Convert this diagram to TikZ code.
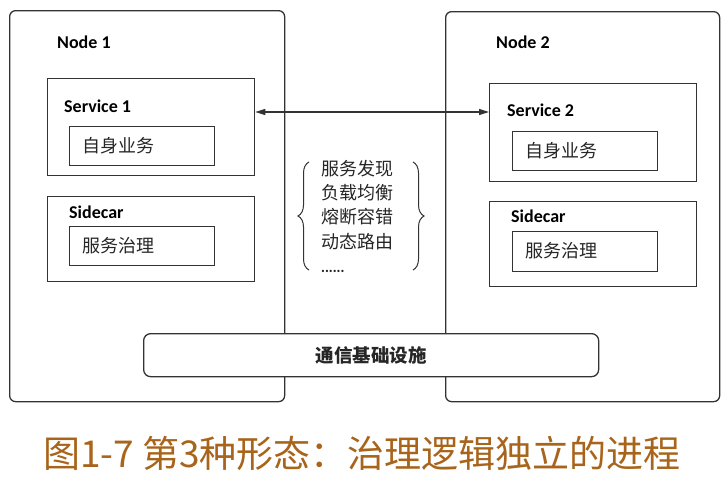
\documentclass[tikz,border=0pt]{standalone}
\usepackage{fontspec}
\setmainfont{Carlito}
\newfontfamily\cjk{Noto Sans CJK SC}
\usetikzlibrary{arrows.meta,decorations.pathreplacing}
\definecolor{linec}{HTML}{333333}
\definecolor{capc}{HTML}{A8641A}
\tikzset{
  outer/.style={draw=linec,line width=1.3pt,rounded corners=6pt,anchor=north west,inner sep=0pt},
  box/.style={draw=linec,line width=1.3pt,anchor=north west,inner sep=0pt},
  infra/.style={draw=linec,fill=white,line width=1.3pt,rounded corners=7pt,anchor=north west,inner sep=0pt},
  lbl/.style={anchor=west,font=\fontsize{18}{21}\selectfont\bfseries,text=black,inner sep=0pt},
  zh/.style={anchor=west,font=\cjk\fontsize{18}{21}\selectfont,text=black!85,inner sep=0pt},
}
\begin{document}
\begin{tikzpicture}[x=1pt,y=-1pt]
\useasboundingbox[fill=white] (0,0) rectangle (726,479);
% nodes
\node[outer,minimum width=275pt,minimum height=391pt] (n1) at (9,10) {};
\node[outer,minimum width=274pt,minimum height=390pt] (n2) at (445,11) {};
\node[lbl] (n1l) at (57,42) {Node 1};
\node[lbl] (n2l) at (496,42) {Node 2};
% services
\node[box,minimum width=207pt,minimum height=97pt] (s1) at (47,78) {};
\node[lbl] (s1l) at (64,106) {Service 1};
\node[box,minimum width=145pt,minimum height=39pt] (b1) at (69,126) {};
\node[zh] (b1t) at (82,145.5) {自身业务};
\node[box,minimum width=207pt,minimum height=85pt] (c1) at (47,196) {};
\node[lbl] (c1l) at (69,212) {Sidecar};
\node[box,minimum width=145pt,minimum height=39pt] (g1) at (69,226) {};
\node[zh] (g1t) at (82,245.5) {服务治理};
\node[box,minimum width=207pt,minimum height=98pt] (s2) at (489,83) {};
\node[lbl] (s2l) at (507,110) {Service 2};
\node[box,minimum width=145pt,minimum height=39pt] (b2) at (512,131) {};
\node[zh] (b2t) at (525,150.5) {自身业务};
\node[box,minimum width=207pt,minimum height=85pt] (c2) at (489,201) {};
\node[lbl] (c2l) at (511,216) {Sidecar};
\node[box,minimum width=145pt,minimum height=40pt] (g2) at (512,231) {};
\node[zh] (g2t) at (525,251) {服务治理};
% arrow
\coordinate (p1) at ([yshift=-34pt]s1.north east);
\draw[linec,line width=1.2pt,{Triangle[length=10pt,width=6pt]}-{Triangle[length=10pt,width=6pt]}] (p1) -- (p1 -| s2.west);
% brace list
\node[anchor=north west,inner sep=0pt,align=left,font=\cjk\fontsize{18}{24.3}\selectfont,text=black!85] (list) at (321,160)
  {服务发现\\负载均衡\\熔断容错\\动态路由\\{\fontsize{11}{10}\selectfont\bfseries ......}};
\coordinate (lb1) at (309,270);
\coordinate (lb2) at (309,162);
\coordinate (rb1) at (413,162);
\coordinate (rb2) at (413,270);
\draw[linec,line width=1pt,decorate,decoration={brace,amplitude=11pt}] (lb1) -- (lb2);
\draw[linec,line width=1pt,decorate,decoration={brace,amplitude=11pt}] (rb1) -- (rb2);
% infra
\node[infra,minimum width=455pt,minimum height=43pt] (inf) at (143,333) {};
\node[font=\cjk\fontsize{18.5}{21}\selectfont\bfseries,text=black!85,inner sep=0pt] (inft) at (inf.center) {通信基础设施};
% caption
\node[font=\cjk\fontsize{37}{42}\selectfont,text=capc,inner sep=0pt] (cap) at (362,453) {图1-7 第3种形态：治理逻辑独立的进程};
\end{tikzpicture}
\end{document}
